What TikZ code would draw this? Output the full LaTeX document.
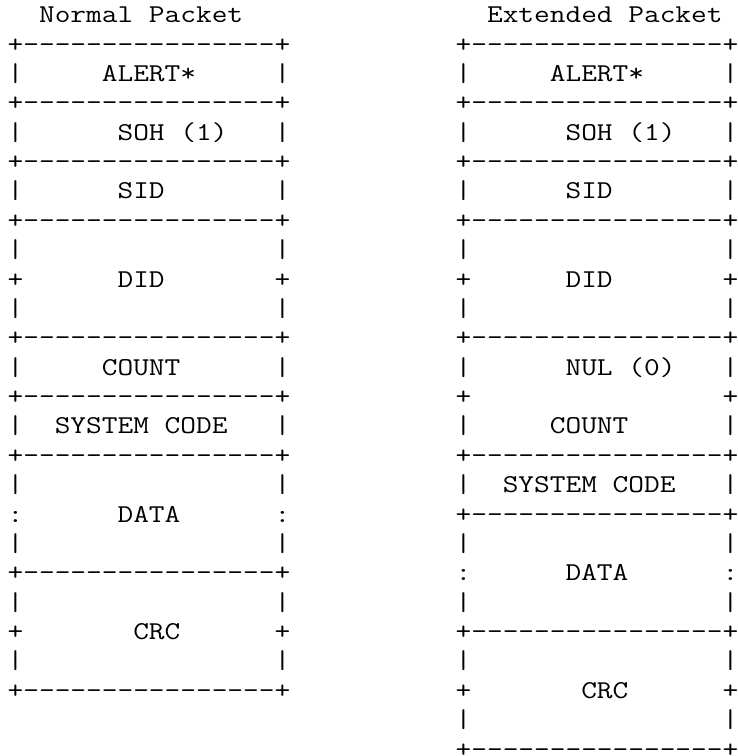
\documentclass[tikz,border=0pt]{standalone}
\usepackage{fontspec}
\def\dd{-\kern0pt}
\def\brd{+\dd\dd\dd\dd\dd\dd\dd\dd\dd\dd\dd\dd\dd\dd\dd\dd+}
\tikzset{
  asciirow/.style={anchor=base west, inner sep=0pt, outer sep=0pt,
    xscale=1.186, transform shape,
    font=\ttfamily\fontsize{25.7pt}{29.4pt}\selectfont, text=black}
}
\begin{document}
\begin{tikzpicture}[x=1pt,y=-1pt]
\useasboundingbox (0,0) rectangle (738,756);
% left column rows (n = 1..24), baseline = 45 + (n-2)*29.375 + 7
\foreach \n/\txt in {
  1/{~~Normal~Packet},
  2/{\brd},
  3/{|~~~~~ALERT*~~~~~|},
  4/{\brd},
  5/{|~~~~~~SOH~(1)~~~|},
  6/{\brd},
  7/{|~~~~~~SID~~~~~~~|},
  8/{\brd},
  9/{|~~~~~~~~~~~~~~~~|},
  10/{+~~~~~~DID~~~~~~~+},
  11/{|~~~~~~~~~~~~~~~~|},
  12/{\brd},
  13/{|~~~~~COUNT~~~~~~|},
  14/{\brd},
  15/{|~~SYSTEM~CODE~~~|},
  16/{\brd},
  17/{|~~~~~~~~~~~~~~~~|},
  18/{:~~~~~~DATA~~~~~~:},
  19/{|~~~~~~~~~~~~~~~~|},
  20/{\brd},
  21/{|~~~~~~~~~~~~~~~~|},
  22/{+~~~~~~~CRC~~~~~~+},
  23/{|~~~~~~~~~~~~~~~~|},
  24/{\brd}}
  \node[asciirow] (L\n) at (7.7, {45+(\n-2)*29.375+7}) {\txt};
% right column rows (n = 1..26)
\foreach \n/\txt in {
  1/{~~Extended~Packet},
  2/{\brd},
  3/{|~~~~~ALERT*~~~~~|},
  4/{\brd},
  5/{|~~~~~~SOH~(1)~~~|},
  6/{\brd},
  7/{|~~~~~~SID~~~~~~~|},
  8/{\brd},
  9/{|~~~~~~~~~~~~~~~~|},
  10/{+~~~~~~DID~~~~~~~+},
  11/{|~~~~~~~~~~~~~~~~|},
  12/{\brd},
  13/{|~~~~~~NUL~(0)~~~|},
  14/{+~~~~~~~~~~~~~~~~+},
  15/{|~~~~~COUNT~~~~~~|},
  16/{\brd},
  17/{|~~SYSTEM~CODE~~~|},
  18/{\brd},
  19/{|~~~~~~~~~~~~~~~~|},
  20/{:~~~~~~DATA~~~~~~:},
  21/{|~~~~~~~~~~~~~~~~|},
  22/{\brd},
  23/{|~~~~~~~~~~~~~~~~|},
  24/{+~~~~~~~CRC~~~~~~+},
  25/{|~~~~~~~~~~~~~~~~|},
  26/{\brd}}
  \node[asciirow] (R\n) at (455.7, {45+(\n-2)*29.375+7}) {\txt};
\end{tikzpicture}
\end{document}
